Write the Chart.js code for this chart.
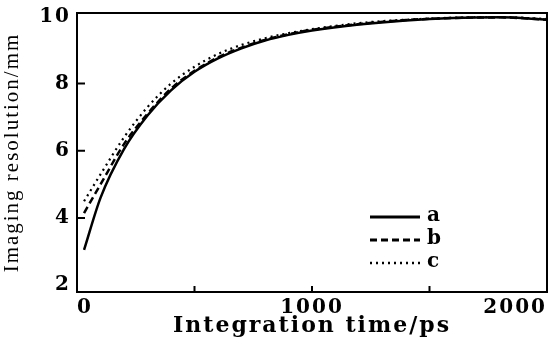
<!DOCTYPE html>
<html>
<head>
<meta charset="utf-8">
<script src="https://cdn.jsdelivr.net/npm/chart.js@4.4.1/dist/chart.umd.min.js"></script>
<style>
  html, body { margin: 0; padding: 0; background: #fff; }
  #wrap { width: 560px; height: 347px; }
</style>
</head>
<body>
<div id="wrap"><canvas id="line-chart"></canvas></div>
<script>
// data
var timeValues = [30, 100, 200, 300, 400, 500, 600, 700, 800, 900, 1000, 1200, 1400, 1600, 1800, 2000];
var seriesA = [3.05, 4.6, 6.05, 7.05, 7.8, 8.35, 8.75, 9.05, 9.28, 9.45, 9.58, 9.76, 9.88, 9.95, 9.97, 9.9];
var seriesB = [4.15, 5.0, 6.2, 7.1, 7.85, 8.38, 8.78, 9.07, 9.3, 9.47, 9.6, 9.77, 9.89, 9.95, 9.97, 9.9];
var seriesC = [4.5, 5.3, 6.4, 7.3, 8.0, 8.5, 8.88, 9.15, 9.35, 9.5, 9.62, 9.8, 9.9, 9.96, 9.98, 9.92];
var seriesNames = ["a", "b", "c"];
var xTickLabels = [0, 1000, 2000];
var yTickLabels = [2, 4, 6, 8, 10];
var xTickMarks = [500, 1000, 1500];
var yTickMarks = [4, 6, 8];

function toPoints(ys) {
  return timeValues.map(function (t, i) { return { x: t, y: ys[i] }; });
}

var dashes = [[], [7, 4], [2, 4]];
var widths = [2.5, 2.5, 2.2];

// box, inward ticks and legend
var framePlugin = {
  id: "frame",
  beforeDraw: function (chart) {
    chart.ctx.letterSpacing = "2px";
  },
  afterDraw: function (chart) {
    var ctx = chart.ctx;
    var a = chart.chartArea;
    var xs = chart.scales.x, ys = chart.scales.y;
    ctx.save();
    ctx.strokeStyle = "#000";
    ctx.lineWidth = 2;
    ctx.setLineDash([]);
    ctx.strokeRect(a.left, a.top, a.right - a.left, a.bottom - a.top);
    ctx.beginPath();
    xTickMarks.forEach(function (v) {
      var px = xs.getPixelForValue(v);
      ctx.moveTo(px, a.bottom);
      ctx.lineTo(px, a.bottom - 6);
    });
    yTickMarks.forEach(function (v) {
      var py = ys.getPixelForValue(v);
      ctx.moveTo(a.left, py);
      ctx.lineTo(a.left + 8, py);
    });
    ctx.stroke();

    // legend
    var lx = 370, ly = 217;
    ctx.font = "bold 20px 'DejaVu Serif'";
    ctx.textBaseline = "middle";
    ctx.fillStyle = "#000";
    chart.data.datasets.forEach(function (ds, i) {
      var y = ly + i * 23;
      ctx.beginPath();
      ctx.lineWidth = ds.borderWidth + 0.5;
      ctx.setLineDash(ds.borderDash);
      ctx.moveTo(lx, y);
      ctx.lineTo(lx + 50, y);
      ctx.stroke();
      ctx.fillText(ds.label, lx + 57, y - 1);
    });
    ctx.restore();
  }
};

new Chart("line-chart", {
  type: "line",
  data: {
    datasets: [0, 1, 2].map(function (i) {
      return {
        label: seriesNames[i],
        data: toPoints([seriesA, seriesB, seriesC][i]),
        borderColor: "#000",
        borderWidth: widths[i],
        borderDash: dashes[i],
        pointRadius: 0,
        fill: false,
        cubicInterpolationMode: "monotone"
      };
    })
  },
  options: {
    animation: false,
    responsive: true,
    maintainAspectRatio: false,
    layout: { autoPadding: false, padding: { top: 13, right: 13, left: 0, bottom: 8 } },
    plugins: {
      legend: { display: false },
      tooltip: { enabled: false }
    },
    scales: {
      x: {
        type: "linear",
        min: 0,
        max: 2000,
        afterBuildTicks: function (s) {
          s.ticks = xTickLabels.map(function (v) { return { value: v }; });
        },
        afterFit: function (s) {
          s.height = 47;
          s.paddingLeft = 0;
          s.paddingRight = 0;
        },
        grid: { display: false, drawTicks: false },
        border: { display: false },
        ticks: {
          color: "#000",
          padding: 4,
          maxRotation: 0,
          align: "inner",
          callback: function (v) { return String(v); },
          font: { family: "DejaVu Serif", size: 20, weight: "bold" }
        },
        title: {
          display: true,
          text: "Integration time/ps",
          color: "#000",
          padding: { top: 0, bottom: 0 },
          font: { family: "DejaVu Serif", size: 22, weight: "bold" }
        }
      },
      y: {
        min: 1.8,
        max: 10.1,
        afterBuildTicks: function (s) {
          s.ticks = yTickLabels.map(function (v) { return { value: v }; });
        },
        afterFit: function (s) {
          s.width = 77;
          s.paddingTop = 0;
          s.paddingBottom = 0;
        },
        grid: { display: false, drawTicks: false },
        border: { display: false },
        ticks: {
          color: "#000",
          padding: 6,
          font: { family: "DejaVu Serif", size: 20, weight: "bold" }
        },
        title: {
          display: true,
          text: "Imaging resolution/mm",
          color: "#000",
          padding: { top: 0, bottom: 2 },
          font: { family: "Liberation Serif", size: 21 }
        }
      }
    }
  },
  plugins: [framePlugin]
});
</script>
</body>
</html>
